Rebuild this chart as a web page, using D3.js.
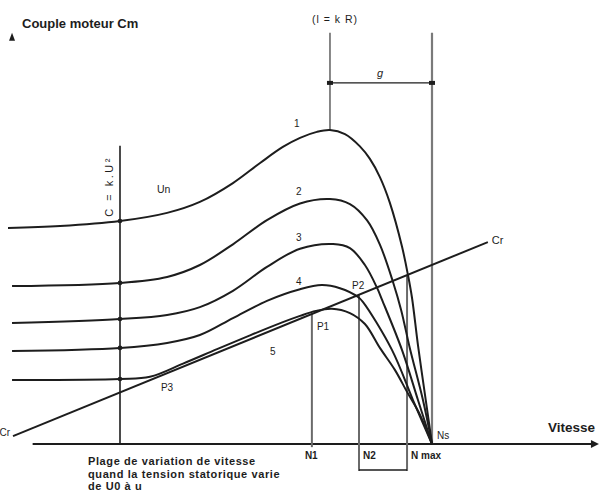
<!DOCTYPE html>
<html>
<head>
<meta charset="utf-8">
<script src="https://cdn.jsdelivr.net/npm/d3@7"></script>
<style>
  body { margin: 0; background: #fff; }
  text { font-family: "Liberation Sans", Arial, sans-serif; fill: #1d1d1d; }
</style>
</head>
<body>
<svg id="chart"></svg>
<script>
const ink = "#1d1d1d";
const grey = "#6a6a6a";

// speed in % of Ns, torque in % of the maximum torque at Un
const curveLabels = ["1", "2", "3", "4", "5"];
const curve1 = [[-35.9, 68.8], [-19.2, 69.4], [0, 71.0], [15.1, 73.6], [25.6, 77.1], [36.2, 83.1],
  [44.9, 89.5], [52.2, 94.6], [57.7, 97.5], [63.1, 99.4], [67.3, 100], [72.1, 98.7], [76.9, 94.8],
  [80.1, 90.8], [83.3, 85.0], [86.5, 76.8], [90.4, 62.8], [92.3, 53.8], [93.6, 46.5], [95.5, 31.5],
  [98.0, 14.0], [100, 0]];
const curve2 = [[-34.6, 50.3], [0, 51.3], [15.1, 53.2], [25.6, 57.0], [36.2, 63.6], [47.1, 71.3],
  [57.7, 76.6], [67.3, 78.0], [73.7, 76.4], [79.2, 71.2], [83.3, 63.5], [87.5, 51.6], [90.1, 42.7],
  [92.9, 30.5], [97.1, 14.0], [100, 0]];
const curve3 = [[-34.6, 38.5], [0, 39.8], [15.1, 41.1], [25.6, 43.6], [36.2, 48.8], [47.1, 56.4],
  [57.7, 62.2], [68.3, 63.7], [73.7, 62.4], [78.5, 57.0], [82.4, 49.7], [84.0, 45.9], [90.4, 29.9],
  [95.5, 14.0], [100, 0]];
const curve4 = [[-34.6, 29.6], [0, 30.6], [15.1, 32.2], [25.6, 34.7], [36.2, 40.1], [47.1, 45.6],
  [57.7, 49.3], [64.7, 50.6], [70.5, 49.6], [76.3, 46.8], [77.9, 45.2], [87.2, 29.9], [93.9, 14.0],
  [100, 0]];
const curve5 = [[-34.6, 20.4], [0, 20.7], [9.6, 21.4], [20.2, 25.6], [31.1, 30.2], [41.7, 34.6],
  [52.2, 38.8], [57.7, 40.8], [62.8, 42.4], [67.9, 43.1], [73.7, 41.7], [78.5, 38.2], [83.3, 30.6],
  [88.1, 23.6], [92.0, 16.6], [96.2, 9.2], [100, 0]];
const curves = [curve1, curve2, curve3, curve4, curve5];

// load torque Cr, a straight line
const crLine = [[-34.3, 2.5], [117.9, 64.3]];

// operating speeds and their labels
const speedLabels = ["N1", "N2", "N max"];
const speedValues = [61.5, 76.6, 92.0];
const pointLabels = ["P1", "P2"];
const nsSpeed = 100;
const peakSpeed = 67.3;
const p3Speed = 9.9;

const W = 599, H = 495;

const svg = d3.select("#chart")
  .attr("width", W)
  .attr("height", H);

const x = d3.scaleLinear().domain([0, 100]).range([120, 432]);
const y = d3.scaleLinear().domain([0, 100]).range([444, 130]);
const cr = d3.scaleLinear()
  .domain([crLine[0][0], crLine[1][0]])
  .range([crLine[0][1], crLine[1][1]]);

const line = d3.line()
  .x(d => x(d[0]))
  .y(d => y(d[1]))
  .curve(d3.curveCatmullRom.alpha(0.5));

// Speed axis with arrow
svg.append("line")
  .attr("x1", x(-28)).attr("x2", x(152))
  .attr("y1", y(0)).attr("y2", y(0))
  .attr("stroke", ink).attr("stroke-width", 2);
svg.append("path")
  .attr("d", `M${x(153.5)},${y(0)} l-8,-4 l0,8 z`)
  .attr("fill", ink);

// Torque axis arrow tip (the axis itself is faded in the scan)
svg.append("path")
  .attr("d", `M${x(-34.6)},${y(131)} l-3,8 l6,0 z`)
  .attr("fill", ink);

// Starting torque axis C = k.U²
svg.append("line")
  .attr("x1", x(0)).attr("x2", x(0))
  .attr("y1", y(95)).attr("y2", y(0))
  .attr("stroke", ink).attr("stroke-width", 1.6);

// Vertical at maximum torque and at Ns, with slip dimension g
svg.append("line")
  .attr("x1", x(peakSpeed)).attr("x2", x(peakSpeed))
  .attr("y1", y(131)).attr("y2", y(100))
  .attr("stroke", grey).attr("stroke-width", 1.6);
svg.append("line")
  .attr("x1", x(nsSpeed)).attr("x2", x(nsSpeed))
  .attr("y1", y(131)).attr("y2", y(0))
  .attr("stroke", "#7a7a7a").attr("stroke-width", 2.2);
svg.append("line")
  .attr("x1", x(peakSpeed)).attr("x2", x(nsSpeed))
  .attr("y1", y(115)).attr("y2", y(115))
  .attr("stroke", ink).attr("stroke-width", 1.2);
[peakSpeed, nsSpeed].forEach(s => {
  svg.append("rect")
    .attr("x", x(s) - 3).attr("y", y(115) - 2)
    .attr("width", 6).attr("height", 4)
    .attr("fill", ink);
});

// Drop lines from the operating points
speedValues.forEach((s, i) => {
  svg.append("line")
    .attr("x1", x(s)).attr("x2", x(s))
    .attr("y1", y(cr(s))).attr("y2", i === 0 ? y(-1) : y(-8.6))
    .attr("stroke", grey).attr("stroke-width", 2);
});
svg.append("line")
  .attr("x1", x(speedValues[1])).attr("x2", x(speedValues[2]))
  .attr("y1", y(-8.3)).attr("y2", y(-8.3))
  .attr("stroke", ink).attr("stroke-width", 1.5);

// Torque curves
svg.selectAll(".curve")
  .data(curves)
  .join("path")
  .attr("class", "curve")
  .attr("d", line)
  .attr("fill", "none")
  .attr("stroke", ink)
  .attr("stroke-width", 2);

// Load torque
svg.append("line")
  .attr("x1", x(crLine[0][0])).attr("y1", y(crLine[0][1]))
  .attr("x2", x(crLine[1][0])).attr("y2", y(crLine[1][1]))
  .attr("stroke", ink).attr("stroke-width", 2);

// Dots on the starting torque axis
svg.selectAll(".dot")
  .data(curves)
  .join("circle")
  .attr("class", "dot")
  .attr("cx", x(0))
  .attr("cy", d => y(d.find(p => p[0] === 0)[1]))
  .attr("r", 2.3)
  .attr("fill", ink);

// Texts
svg.append("text").attr("x", 22).attr("y", 28)
  .style("font-size", "13px").style("font-weight", "bold")
  .text("Couple moteur Cm");

svg.append("text").attr("x", 312).attr("y", 23)
  .style("font-size", "10.5px").style("letter-spacing", "1px")
  .text("(l = k R)");

svg.append("text").attr("x", 377).attr("y", 77)
  .style("font-size", "11px").style("font-style", "italic")
  .text("g");

svg.append("text")
  .attr("transform", `translate(${x(0) - 7},${y(82)}) rotate(-90)`)
  .attr("text-anchor", "middle")
  .style("font-size", "11px").style("letter-spacing", "2.5px")
  .text("C = k.U²");

svg.append("text").attr("x", 157).attr("y", 193)
  .style("font-size", "10.5px").text("Un");

const labelPos = [[294, 127], [296, 195], [296, 241], [296, 285], [270, 355]];
curveLabels.forEach((t, i) => {
  svg.append("text")
    .attr("x", labelPos[i][0]).attr("y", labelPos[i][1])
    .style("font-size", "10px")
    .text(t);
});

svg.append("text").attr("x", x(speedValues[0]) + 5).attr("y", y(cr(speedValues[0])) + 16)
  .style("font-size", "10px").text(pointLabels[0]);
svg.append("text").attr("x", x(speedValues[1]) - 7).attr("y", y(cr(speedValues[1])) - 6)
  .style("font-size", "10px").text(pointLabels[1]);
svg.append("text").attr("x", x(p3Speed) + 10).attr("y", y(cr(p3Speed)) + 11)
  .style("font-size", "10px").text("P3");

svg.append("text").attr("x", x(crLine[1][0]) + 4).attr("y", y(crLine[1][1]) + 2)
  .style("font-size", "11px").text("Cr");
svg.append("text").attr("x", 10).attr("y", 436)
  .attr("text-anchor", "end")
  .style("font-size", "10px").text("Cr");

svg.append("text").attr("x", 548).attr("y", 432)
  .style("font-size", "13.5px").style("font-weight", "bold")
  .text("Vitesse");

svg.append("text").attr("x", x(nsSpeed) + 5).attr("y", y(0) - 5)
  .style("font-size", "10px").text("Ns");

speedLabels.forEach((t, i) => {
  svg.append("text")
    .attr("x", x(speedValues[i]) + (i === 0 ? -7 : 4))
    .attr("y", y(0) + 15)
    .style("font-size", "10px").style("font-weight", "bold")
    .text(t);
});

["Plage de variation de vitesse",
 "quand la tension statorique varie",
 "de U0 à u"].forEach((t, i) => {
  svg.append("text")
    .attr("x", 88).attr("y", 465 + i * 12.6)
    .style("font-size", "11px").style("font-weight", "bold")
    .style("letter-spacing", "0.6px")
    .text(t);
});
</script>
</body>
</html>
